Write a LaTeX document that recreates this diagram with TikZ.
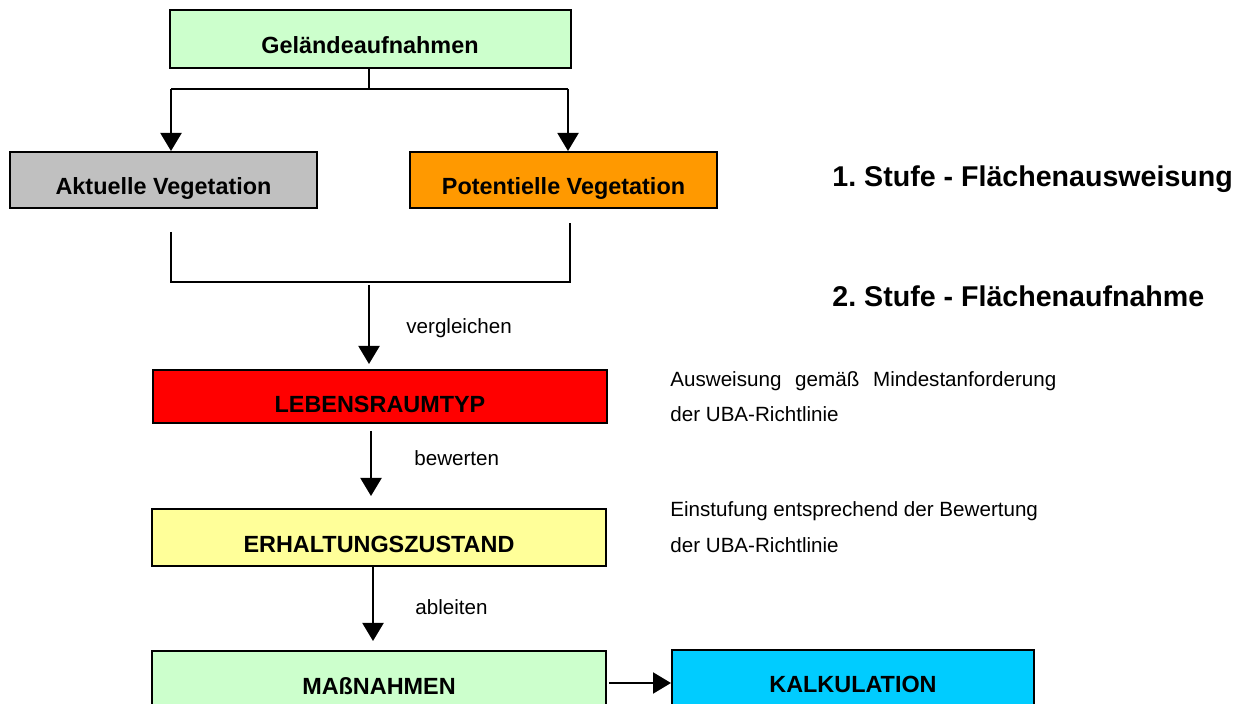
\documentclass[tikz,border=0pt]{standalone}
\usepackage{fontspec}
\setmainfont{Liberation Sans}
\usetikzlibrary{arrows.meta,fit}
\frenchspacing
\definecolor{lgreen}{HTML}{CCFFCC}
\definecolor{lgray}{HTML}{C0C0C0}
\definecolor{orng}{HTML}{FF9900}
\definecolor{rd}{HTML}{FF0000}
\definecolor{lyellow}{HTML}{FFFF99}
\definecolor{cyn}{HTML}{00CCFF}
\tikzset{
  boxnode/.style={draw=black, line width=1pt, inner sep=0pt, rectangle},
  btext/.style={anchor=base, inner sep=0pt, font=\fontsize{11.7}{14}\selectfont\bfseries},
  lbl/.style={anchor=base west, inner sep=0pt, font=\fontsize{10.3}{12}\selectfont},
  stufe/.style={anchor=base west, inner sep=0pt, font=\fontsize{14.3}{17}\selectfont\bfseries},
  conn/.style={line width=1pt, draw=black},
  arr/.style={conn, -{Triangle[width=10.5pt,length=9pt]}}
}
\begin{document}
\begin{tikzpicture}[x=0.5pt,y=-0.5pt]
\clip (0,0) rectangle (1254,704);
\fill[white] (0,0) rectangle (1254,704);
% boxes
\node[boxnode, fill=lgreen, fit={(170,10) (571,68)}] (gel) {};
\node[boxnode, fill=lgray, fit={(10,152) (317,208)}] (akt) {};
\node[boxnode, fill=orng, fit={(410,152) (717,208)}] (pot) {};
\node[boxnode, fill=rd, fit={(153,370) (607,423)}] (leb) {};
\node[boxnode, fill=lyellow, fit={(152,509) (606,566)}] (erh) {};
\node[boxnode, fill=lgreen, fit={(152,651) (606,730)}] (mas) {};
\node[boxnode, fill=cyn, fit={(672,650) (1034,730)}] (kal) {};
% box texts
\node[btext] (gelT) at (370,54) {Geländeaufnahmen};
\node[btext] (aktT) at (163.5,195) {Aktuelle Vegetation};
\node[btext] (potT) at (563.5,195) {Potentielle Vegetation};
\node[btext] (lebT) at (380,413) {LEBENSRAUMTYP};
\node[btext] (erhT) at (379,553) {ERHALTUNGSZUSTAND};
\node[btext] (masT) at (379,695) {MAßNAHMEN};
\node[btext] (kalT) at (853,693) {KALKULATION};
% labels
\node[lbl] (l1) at (406,334) {vergleichen};
\node[lbl] (l2) at (414,466) {bewerten};
\node[lbl] (l3) at (415,615) {ableiten};
\node[stufe] (s1) at (832,187) {1. Stufe - Flächenausweisung};
\node[stufe] (s2) at (832,307) {2. Stufe - Flächenaufnahme};
\node[lbl] (a1) at (670,387) {\makebox[193pt][s]{Ausweisung gemäß Mindestanforderung}};
\node[lbl] (a2) at (670,422) {der UBA-Richtlinie};
\node[lbl] (e1) at (670,517) {Einstufung entsprechend der Bewertung};
\node[lbl] (e2) at (670,553) {der UBA-Richtlinie};
% top split
\coordinate (j) at (369,89);
\coordinate (la) at (171,89);
\coordinate (ra) at (568,89);
\draw[conn] (j |- gel.south) -- (j);
\draw[conn] (la) -- (ra);
\draw[arr] (la) -- (la |- akt.north);
\draw[arr] (ra) -- (ra |- pot.north);
% bracket
\coordinate (bl) at (171,232);
\coordinate (br) at (570,223);
\coordinate (bm) at (369,282);
\draw[conn] (bl) -- (bl |- bm) -- (br |- bm) -- (br);
\draw[arr, shorten <=1.5pt, shorten >=2.5pt] (bm) -- (bm |- leb.north);
% chain
\coordinate (c2) at (371,0);
\draw[arr, shorten <=3.5pt, shorten >=6pt] (c2 |- leb.south) -- (c2 |- erh.north);
\coordinate (c3) at (373,0);
\draw[arr, shorten >=4.5pt] (c3 |- erh.south) -- (c3 |- mas.north);
\coordinate (h) at (0,683);
\draw[arr, shorten <=1pt] (mas.east |- h) -- (kal.west |- h);
\end{tikzpicture}
\end{document}
